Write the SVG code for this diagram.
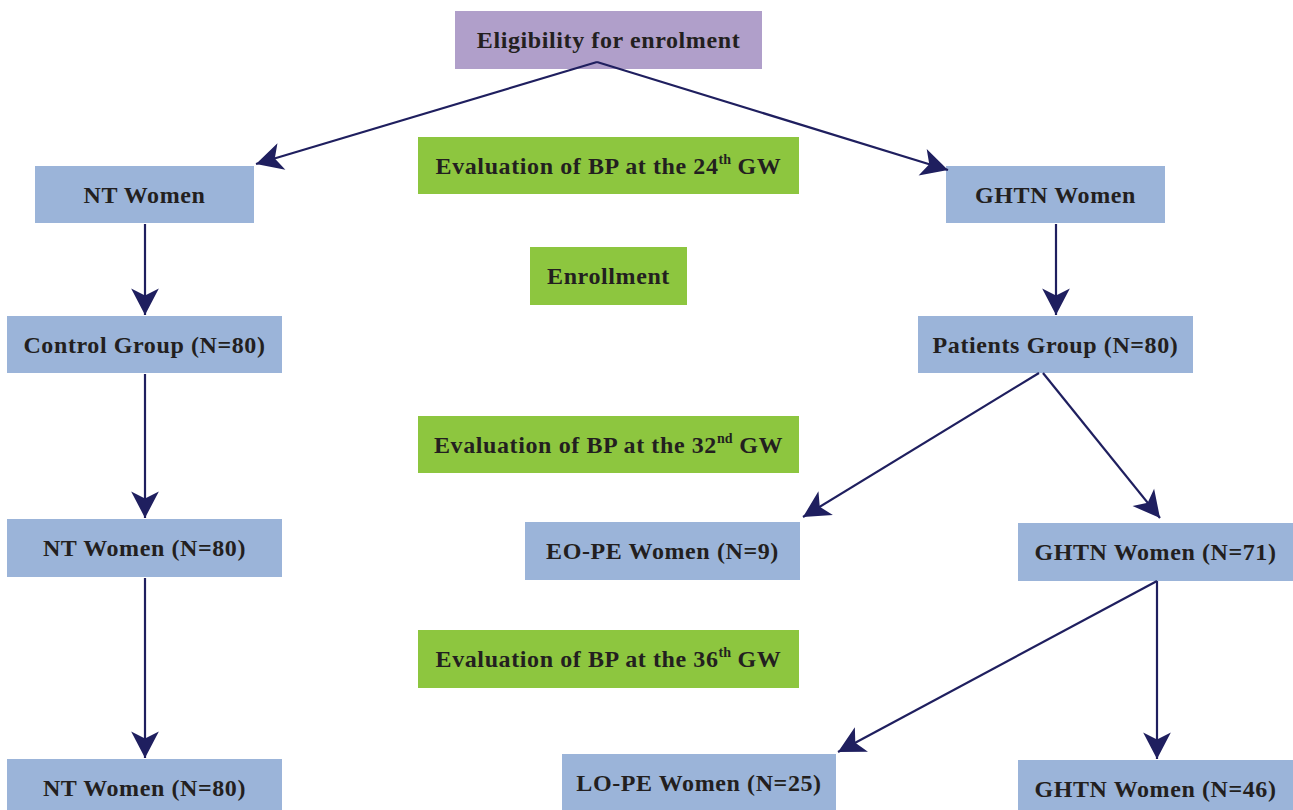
<svg xmlns="http://www.w3.org/2000/svg" width="1293" height="810" viewBox="0 0 1293 810">
<defs>
<style>
.purple{fill:#b09fca}
.blue{fill:#9bb4d9}
.green{fill:#8dc63f}
text{font-family:"Liberation Serif","Times New Roman",serif;font-weight:bold;font-size:24px;letter-spacing:0.6px;fill:#231f20;text-anchor:middle}
.sup{font-size:14px;letter-spacing:0}
.conn line{stroke:#1f1f5f;stroke-width:2.2;fill:none;marker-end:url(#ah)}
</style>
<marker id="ah" markerUnits="userSpaceOnUse" markerWidth="30" markerHeight="30" refX="0" refY="0" viewBox="-24 -13 26 26" orient="auto" overflow="visible">
<path d="M0,0 L-23,-12 L-17,0 L-23,12 Z" fill="#1f1f5f"/>
</marker>
</defs>
<rect width="1293" height="810" fill="#ffffff"/>
<g id="eligibility"><rect class="purple" x="455" y="11" width="307" height="58"/><text x="608.5" y="48">Eligibility for enrolment</text></g>
<g id="eval24"><rect class="green" x="418" y="137" width="381" height="57"/><text x="608.5" y="174">Evaluation of BP at the 24<tspan class="sup" dy="-10">th</tspan><tspan dy="10"> GW</tspan></text></g>
<g id="enrollment"><rect class="green" x="530" y="247" width="157" height="58"/><text x="608.5" y="284">Enrollment</text></g>
<g id="eval32"><rect class="green" x="418" y="416" width="381" height="57"/><text x="608.5" y="453">Evaluation of BP at the 32<tspan class="sup" dy="-10">nd</tspan><tspan dy="10"> GW</tspan></text></g>
<g id="eval36"><rect class="green" x="418" y="630" width="381" height="58"/><text x="608.5" y="667">Evaluation of BP at the 36<tspan class="sup" dy="-10">th</tspan><tspan dy="10"> GW</tspan></text></g>
<g id="nt-women"><rect class="blue" x="35" y="166" width="219" height="57"/><text x="144.5" y="203">NT Women</text></g>
<g id="ghtn-women"><rect class="blue" x="946" y="166" width="219" height="57"/><text x="1055.5" y="203">GHTN Women</text></g>
<g id="control-group"><rect class="blue" x="7" y="316" width="275" height="57"/><text x="144.5" y="353">Control Group (N=80)</text></g>
<g id="patients-group"><rect class="blue" x="918" y="316" width="275" height="57"/><text x="1055.5" y="353">Patients Group (N=80)</text></g>
<g id="nt-women-32"><rect class="blue" x="7" y="519" width="275" height="58"/><text x="144.5" y="556">NT Women (N=80)</text></g>
<g id="eo-pe"><rect class="blue" x="525" y="522" width="275" height="58"/><text x="662.5" y="559">EO-PE Women (N=9)</text></g>
<g id="ghtn-71"><rect class="blue" x="1018" y="523" width="275" height="58"/><text x="1155.5" y="560">GHTN Women (N=71)</text></g>
<g id="nt-women-36"><rect class="blue" x="7" y="759" width="275" height="51"/><text x="144.5" y="796">NT Women (N=80)</text></g>
<g id="lo-pe"><rect class="blue" x="562" y="754" width="274" height="56"/><text x="699" y="791">LO-PE Women (N=25)</text></g>
<g id="ghtn-46"><rect class="blue" x="1018" y="760" width="275" height="50"/><text x="1155.5" y="797">GHTN Women (N=46)</text></g>
<g class="conn" id="connectors">
<line x1="597" y1="62" x2="256" y2="164"/>
<line x1="597" y1="62" x2="948" y2="170"/>
<line x1="145" y1="224" x2="145" y2="315"/>
<line x1="1056" y1="224" x2="1056" y2="315"/>
<line x1="145" y1="374" x2="145" y2="518"/>
<line x1="1039" y1="373" x2="803" y2="517"/>
<line x1="1043" y1="373" x2="1160" y2="518"/>
<line x1="145" y1="578" x2="145" y2="758"/>
<line x1="1157" y1="581" x2="838" y2="752"/>
<line x1="1157" y1="581" x2="1157" y2="759"/>
</g>
</svg>
